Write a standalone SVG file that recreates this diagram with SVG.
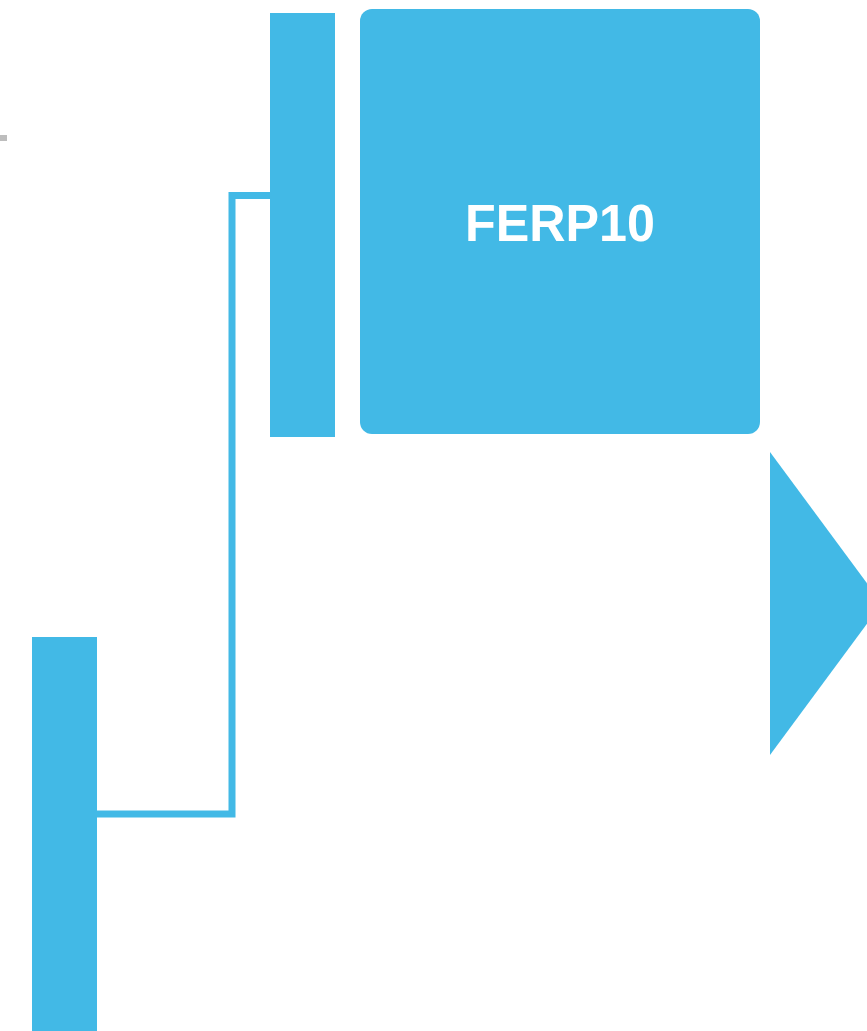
<svg xmlns="http://www.w3.org/2000/svg" width="867" height="1031" viewBox="0 0 867 1031">
<style>
.fill{fill:#42B9E6}
.conn{fill:none;stroke:#42B9E6;stroke-width:7}
.lbl{font-family:"Liberation Sans",Arial,sans-serif;font-weight:bold;font-size:51px;fill:#fff}
</style>
<rect x="0" y="0" width="867" height="1031" fill="#fff"/>
<rect id="mark" x="0" y="135" width="7" height="6" fill="#BDBDBD"/>
<g id="connectors">
<polyline class="conn" points="270,195.5 232,195.5 232,814 97,814"/>
</g>
<g id="bar-right"><rect class="fill" x="270" y="13" width="65" height="424"/></g>
<g id="ferp10"><rect class="fill" x="360" y="9" width="400" height="425" rx="12"/>
<text class="lbl" x="560" y="241" text-anchor="middle" textLength="190" lengthAdjust="spacingAndGlyphs">FERP10</text></g>
<g id="triangle"><polygon class="fill" points="770,452 882,603.5 770,755"/></g>
<g id="bar-left"><rect class="fill" x="32" y="637" width="65" height="394"/></g>
</svg>
